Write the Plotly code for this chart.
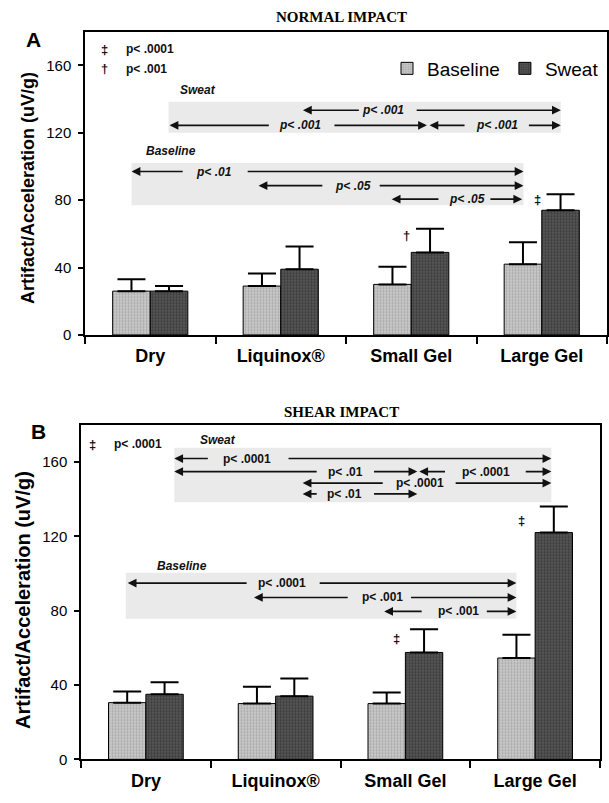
import plotly.graph_objects as go

# ---------------- data ----------------
categories = ["Dry", "Liquinox®", "Small Gel", "Large Gel"]

normal_baseline = [26, 29, 30, 42]
normal_baseline_err = [7, 7.5, 10.5, 13]
normal_sweat = [26, 39, 49, 74]
normal_sweat_err = [3, 13.5, 14, 9.5]

shear_baseline = [30.5, 30, 30, 54.5]
shear_baseline_err = [6, 9, 6, 12.5]
shear_sweat = [35, 34, 57.5, 122]
shear_sweat_err = [6.5, 9.5, 12.5, 14]

y_ticks = [0, 40, 80, 120, 160]

# significance rows: (y, label, label_x, left_tip, left_tail, right_tail, right_tip)
normal_sweat_rows = [
    (133.4, "p< .001", 1.78, 1.17, 1.61, 2.03, 3.146),
    (124.4, "p< .001", 1.15, 0.148, 0.92, 1.40, 2.12),
    (124.4, "p< .001", 2.655, 2.14, 2.42, 2.89, 3.146),
]
normal_base_rows = [
    (97.0, "p< .01", 0.49, -0.143, 0.26, 0.735, 2.86),
    (88.6, "p< .05", 1.55, 0.83, 1.33, 1.747, 2.86),
    (80.6, "p< .05", 2.43, 1.85, 2.22, 2.595, 2.85),
]
shear_sweat_rows = [
    (161.8, "p< .0001", 0.78, 0.219, 0.489, 1.088, 3.125),
    (154.8, "p< .01", 1.537, 0.219, 1.328, 1.747, 2.092),
    (154.8, "p< .0001", 2.622, 2.107, 2.317, 2.916, 3.125),
    (148.6, "p< .0001", 2.113, 1.208, 1.837, 2.376, 3.125),
    (142.8, "p< .01", 1.528, 1.208, 1.328, 1.747, 2.092),
]
shear_base_rows = [
    (94.8, "p< .0001", 1.049, -0.14, 0.788, 1.328, 2.856),
    (87.1, "p< .001", 1.822, 0.833, 1.567, 2.032, 2.856),
    (79.6, "p< .001", 2.406, 1.837, 2.137, 2.616, 2.856),
]
# shaded boxes: (x0, x1, y0, y1)
normal_boxes = [(0.14, 3.146, 120, 138.4), (-0.143, 2.86, 77, 102)]
shear_boxes = [(0.219, 3.125, 138.3, 167.6), (-0.155, 2.856, 75.6, 100.4)]
# group labels: (text, x, y)
normal_group_labels = [("Sweat", 0.214, 145.4), ("Baseline", -0.05, 109)]
shear_group_labels = [("Sweat", 0.40, 172), ("Baseline", 0.069, 104.2)]
# key (symbol, text, y)
normal_key = [("‡", "p< .0001", 169.5), ("†", "p< .001", 158)]
shear_key = [("‡", "p< .0001", 169.4)]
normal_key_x = (-0.35, -0.2)
shear_key_x = (-0.41, -0.26)
# markers over bars (symbol, x, y)
normal_marks = [("†", 1.96, 58.8), ("‡", 2.97, 80.4)]
shear_marks = [("‡", 1.93, 64.9), ("‡", 2.898, 128.7)]

# ---------------- style ----------------
SANS = "Liberation Sans, Arial, sans-serif"
SERIF = "Liberation Serif, Times New Roman, serif"
W, H = 609, 803

base_style = dict(color="#cdcdcd", line=dict(color="black", width=1),
                  pattern=dict(shape=".", fgcolor="#858585", size=3, solidity=0.45))
sweat_style = dict(color="#5c5c5c", line=dict(color="black", width=1),
                   pattern=dict(shape=".", fgcolor="#1c1c1c", size=3, solidity=0.5))

fig = go.Figure()


def add_bars(vals, errs, name, style, xa, ya, show):
    fig.add_trace(go.Bar(
        x=categories, y=vals, name=name, marker=style,
        error_y=dict(type="data", array=errs, arrayminus=[0] * len(errs),
                     symmetric=False, color="black", thickness=2, width=14),
        xaxis=xa, yaxis=ya, showlegend=show, legendgroup=name,
    ))


add_bars(normal_baseline, normal_baseline_err, "Baseline", base_style, "x", "y", True)
add_bars(normal_sweat, normal_sweat_err, "Sweat", sweat_style, "x", "y", True)
add_bars(shear_baseline, shear_baseline_err, "Baseline", base_style, "x2", "y2", False)
add_bars(shear_sweat, shear_sweat_err, "Sweat", sweat_style, "x2", "y2", False)

annotations = []
shapes = []


def sig(rows, xr, yr, italic):
    for (y, lab, lx, ltip, ltail, rtail, rtip) in rows:
        for tip, tail in ((ltip, ltail), (rtip, rtail)):
            annotations.append(dict(
                x=tip, y=y, ax=tail, ay=y, xref=xr, yref=yr, axref=xr, ayref=yr,
                text="", showarrow=True, arrowhead=2, arrowsize=1.1,
                arrowwidth=1.6, arrowcolor="#111", standoff=0, startstandoff=0))
        txt = f"<b><i>{lab}</i></b>" if italic else f"<b>{lab}</b>"
        annotations.append(dict(x=lx, y=y, xref=xr, yref=yr, text=txt,
                                showarrow=False, font=dict(family=SANS, size=12, color="#111"),
                                xanchor="center", yanchor="middle"))


def boxes(bx, xr, yr):
    for (x0, x1, y0, y1) in bx:
        shapes.append(dict(type="rect", xref=xr, yref=yr, x0=x0, x1=x1, y0=y0, y1=y1,
                           fillcolor="#eaeaea", line=dict(width=0), layer="below"))


def texts(groups, key, keyx, marks, xr, yr):
    for (t, x, y) in groups:
        annotations.append(dict(x=x, y=y, xref=xr, yref=yr, text=f"<b><i>{t}</i></b>",
                                showarrow=False, xanchor="left", yanchor="middle",
                                font=dict(family=SANS, size=12, color="#111")))
    for (s, t, y) in key:
        annotations.append(dict(x=keyx[0], y=y, xref=xr, yref=yr, text=f"<b>{s}</b>",
                                showarrow=False, xanchor="center", yanchor="middle",
                                font=dict(family=SANS, size=13, color="#111")))
        annotations.append(dict(x=keyx[1], y=y, xref=xr, yref=yr, text=f"<b>{t}</b>",
                                showarrow=False, xanchor="left", yanchor="middle",
                                font=dict(family=SANS, size=12, color="#111")))
    for (s, x, y) in marks:
        annotations.append(dict(x=x, y=y, xref=xr, yref=yr, text=f"<b>{s}</b>",
                                showarrow=False, xanchor="center", yanchor="middle",
                                font=dict(family=SANS, size=13, color="#111")))


boxes(normal_boxes, "x", "y")
boxes(shear_boxes, "x2", "y2")
sig(normal_sweat_rows, "x", "y", True)
sig(normal_base_rows, "x", "y", True)
sig(shear_sweat_rows, "x2", "y2", False)
sig(shear_base_rows, "x2", "y2", False)
texts(normal_group_labels, normal_key, normal_key_x, normal_marks, "x", "y")
texts(shear_group_labels, shear_key, shear_key_x, shear_marks, "x2", "y2")


# titles, panel letters, axis titles
def paper(text, x, y, size, family=SANS, angle=0, bold=True):
    annotations.append(dict(x=x / W, y=1 - y / H, xref="paper", yref="paper",
                            text=f"<b>{text}</b>" if bold else text, showarrow=False,
                            textangle=angle, xanchor="center", yanchor="middle",
                            font=dict(family=family, size=size, color="black")))


paper("NORMAL IMPACT", 341, 17, 15, SERIF)
paper("SHEAR IMPACT", 341, 416, 15, SERIF)
paper("A", 33, 40, 21)
paper("B", 38, 436, 21)
paper("Artifact/Acceleration (uV/g)", 28, 190, 18, angle=-90)
paper("Artifact/Acceleration (uV/g)", 23, 606, 20, angle=-90)

xcommon = dict(type="category", range=[-0.5, 3.5], showline=True, linecolor="black",
               linewidth=1.5, mirror=True, ticks="outside", tickson="boundaries",
               ticklen=7, tickwidth=1.5, tickcolor="black", showgrid=False, zeroline=False,
               tickfont=dict(family=SANS, size=18, color="black", weight="bold"),
               fixedrange=True)
ycommon = dict(range=[0, 180], tickvals=y_ticks, showline=True, linecolor="black",
               linewidth=1.5, mirror=True, ticks="outside", ticklen=5, tickwidth=1.5,
               tickcolor="black", showgrid=False, zeroline=False,
               tickfont=dict(family=SANS, size=15, color="black"), fixedrange=True)

fig.update_layout(
    width=W, height=H, margin=dict(l=0, r=0, t=0, b=0),
    paper_bgcolor="white", plot_bgcolor="white",
    barmode="group", bargap=0.424, bargroupgap=0,
    xaxis=dict(domain=[85 / W, 607 / W], anchor="y", **xcommon),
    yaxis=dict(domain=[1 - 338.3 / H, 1 - 32 / H], anchor="x", **ycommon),
    xaxis2=dict(domain=[81 / W, 600 / W], anchor="y2", **xcommon),
    yaxis2=dict(domain=[1 - 767 / H, 1 - 429 / H], anchor="x2", **ycommon),
    legend=dict(orientation="h", x=604 / W, xanchor="right", y=1 - 50 / H, yanchor="top",
                font=dict(family=SANS, size=19, color="black"), bgcolor="rgba(0,0,0,0)",
                itemwidth=30, traceorder="normal"),
    annotations=annotations, shapes=shapes,
)
fig.update_xaxes(ticklabelstandoff=4)
fig.update_yaxes(ticklabelstandoff=4)

fig.write_html("out.html")
